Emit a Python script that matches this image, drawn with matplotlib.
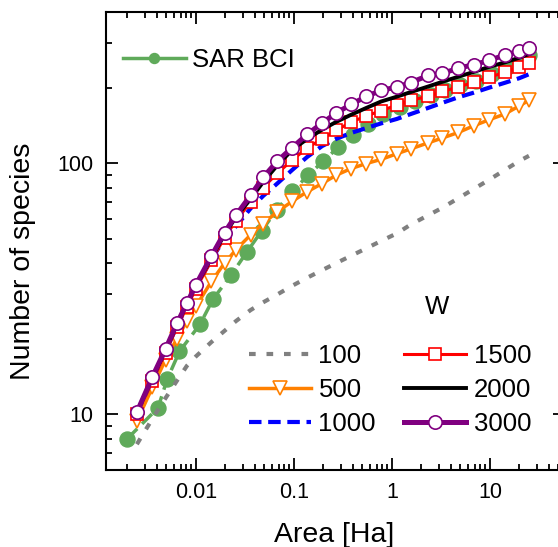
import numpy as np
import matplotlib.pyplot as plt
from matplotlib.lines import Line2D
from matplotlib.ticker import LogLocator, NullFormatter, FuncFormatter

plt.rcParams['font.family'] = ['Liberation Sans', 'DejaVu Sans']

# sampling areas (Ha) used by the model curves
area = [0.0025, 0.0036, 0.0049, 0.0064, 0.0081, 0.01, 0.0144, 0.0196, 0.0256,
        0.0361, 0.0484, 0.0676, 0.0961, 0.137, 0.194, 0.27, 0.384, 0.548,
        0.774, 1.12, 1.56, 2.34, 3.28, 4.75, 6.86, 9.86, 14.2, 19.9, 25.0]

# number of species for each W
w100 = [7.6, 9.6, 11.6, 13.6, 15.6, 17.0, 19.4, 21.5, 23.5, 26.0, 27.9, 30.0,
        32.5, 35.0, 37.5, 40.0, 42.8, 45.8, 49.0, 52.5, 57.0, 62.0, 66.5, 72.5,
        79.0, 86.0, 94.0, 102.0, 107.0]
w500 = [9.4, 12.8, 16.5, 20.0, 23.5, 26.9, 33.8, 40.0, 45.2, 51.8, 57.5, 64.0,
        70.5, 77.0, 83.0, 89.6, 95.2, 99.7, 103.5, 109.0, 114.0, 120.5, 126.0,
        132.5, 141.0, 149.0, 157.0, 169.0, 178.0]
w1000 = [10.1, 13.8, 17.8, 22.5, 27.0, 32.0, 41.5, 50.0, 56.0, 66.0, 74.0, 83.0,
         94.0, 106.0, 117.0, 125.0, 132.0, 138.0, 144.0, 150.0, 157.0, 166.0,
         174.0, 183.0, 191.0, 200.0, 209.0, 218.0, 226.0]
w1500 = [10.0, 13.6, 17.6, 22.2, 26.8, 31.6, 41.0, 50.5, 59.0, 70.0, 80.0, 91.0,
         103.0, 115.0, 125.0, 135.0, 146.0, 154.0, 162.0, 170.0, 178.0, 184.5,
         193.0, 201.0, 210.0, 220.0, 230.0, 241.0, 250.0]
w2000 = [10.2, 14.0, 18.0, 22.8, 27.5, 32.5, 42.0, 52.0, 61.0, 72.0, 84.0, 98.0,
         113.0, 125.0, 136.0, 146.0, 156.0, 166.0, 176.0, 184.0, 192.0, 202.0,
         211.0, 221.0, 231.0, 242.0, 252.0, 263.0, 272.0]
w3000 = [10.2, 14.1, 18.2, 23.0, 27.7, 32.8, 42.7, 52.9, 62.0, 74.4, 87.7, 101.8,
         115.4, 130.3, 144.5, 158.4, 171.5, 184.5, 194.9, 201.0, 209.5, 223.5,
         228.0, 238.7, 247.0, 256.5, 270.0, 279.0, 287.9]

# observed species-area relation at BCI
bci_area = [0.002, 0.0041, 0.0051, 0.0068, 0.011, 0.015, 0.0228, 0.033, 0.047,
            0.0665, 0.0966, 0.14, 0.199, 0.283, 0.403, 0.573, 0.815, 1.21, 1.73,
            2.48, 3.5, 5.0, 7.2, 10.4, 14.9, 21.0, 25.0]
bci_species = [8.0, 10.6, 13.8, 17.8, 22.8, 28.8, 35.8, 44.2, 53.8, 65.1, 77.3,
               89.6, 101.8, 115.7, 129.2, 142.8, 156.4, 167.0, 177.0, 187.0,
               196.0, 204.0, 213.0, 226.0, 242.0, 258.0, 270.0]

green = '#5FAA5A'

fig = plt.figure(figsize=(5.58, 5.47), dpi=100)
# the right spine sits just past the image edge, as in the original
ax = fig.add_axes([106 / 558, 77 / 547, 459 / 558, 458 / 547])

ax.plot(bci_area, bci_species, color=green, lw=2.5, dashes=(4, 2),
        marker='o', ms=10.8, mfc=green, mec=green, zorder=2)
l100, = ax.plot(area, w100, color='#808080', lw=3, dashes=(1.6, 2.6), zorder=3)
l500, = ax.plot(area, w500, color='#FF8000', lw=2.5, marker='v', ms=10,
                mfc='white', mec='#FF8000', mew=1.2, zorder=4)
l1000, = ax.plot(area, w1000, color='#0000FF', lw=3, dashes=(3, 1.6), zorder=5)
l1500, = ax.plot(area, w1500, color='#FF0000', lw=2.2, marker='s', ms=8.4,
                 mfc='white', mec='#FF0000', mew=1.2, zorder=6)
l2000, = ax.plot(area, w2000, color='black', lw=2.8, zorder=7)
l3000, = ax.plot(area, w3000, color='#800080', lw=3.6, marker='o', ms=9.6,
                 mfc='white', mec='#800080', mew=1.2, zorder=8)

ax.set_xscale('log')
ax.set_yscale('log')
ax.set_xlim(0.00121, 58.3)
ax.set_ylim(6, 400)

ax.xaxis.set_major_locator(LogLocator(base=10))
ax.xaxis.set_minor_locator(LogLocator(base=10, subs=np.arange(2, 10)))
ax.xaxis.set_major_formatter(FuncFormatter(lambda v, p: '%g' % v))
ax.xaxis.set_minor_formatter(NullFormatter())
ax.yaxis.set_major_locator(LogLocator(base=10))
ax.yaxis.set_minor_locator(LogLocator(base=10, subs=np.arange(2, 10)))
ax.yaxis.set_major_formatter(FuncFormatter(lambda v, p: '%g' % v))
ax.yaxis.set_minor_formatter(NullFormatter())

ax.tick_params(which='both', direction='in', top=True, right=True,
               labelsize=15.5, width=1.3)
ax.tick_params(which='major', length=8.5, pad=9)
ax.tick_params(which='minor', length=4.5)
for s in ax.spines.values():
    s.set_linewidth(1.5)

ax.set_xlabel('Area [Ha]', fontsize=20.5)
ax.set_ylabel('Number of species', fontsize=20.5)
ax.xaxis.set_label_coords(0.497, -0.113)
ax.yaxis.set_label_coords(-0.152, 0.456)

bci_handle = Line2D([], [], color=green, lw=2.5, marker='o', ms=7.2,
                    mfc=green, mec=green)
leg1 = ax.legend([bci_handle], ['SAR BCI'], loc='center left',
                 bbox_to_anchor=(0.037, 0.895), frameon=False, fontsize=18.5,
                 borderpad=0, borderaxespad=0, handlelength=2.45,
                 handletextpad=0.22, numpoints=1)
ax.add_artist(leg1)

ax.legend([l100, l500, l1000, l1500, l2000, l3000],
          ['100', '500', '1000', '1500', '2000', '3000'],
          ncol=2, loc='center', bbox_to_anchor=(0.619, 0.1747),
          frameon=False, fontsize=18.5, borderpad=0, borderaxespad=0,
          handlelength=2.4, handletextpad=0.3, columnspacing=1.1,
          labelspacing=0.38, numpoints=1)

ax.text(437, 547 - 307, 'W', transform=None, fontsize=18.5,
        ha='center', va='center')

fig.savefig('out.png', dpi=100)
